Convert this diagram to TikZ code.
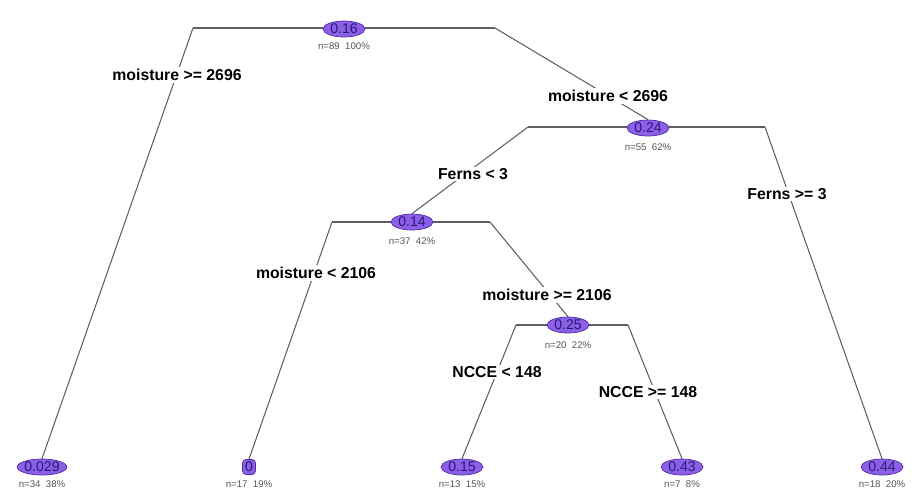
\documentclass[tikz,border=0pt]{standalone}
\usepackage{fontspec}
\setmainfont{Liberation Sans}
\usetikzlibrary{shapes.geometric,backgrounds}
\definecolor{nodefill}{RGB}{140,95,230}
\definecolor{nodeedge}{RGB}{80,45,170}
\definecolor{nodetext}{RGB}{40,25,120}
\definecolor{branch}{RGB}{95,95,95}
\definecolor{count}{RGB}{85,85,85}
\begin{document}
\begin{tikzpicture}[x=0.02cm, y=-0.02cm]
		\useasboundingbox (0,0) rectangle (915,488);
		\begin{scope}[every node/.style={ellipse, draw=nodeedge, fill=nodefill, text=nodetext, inner sep=0pt, minimum width=0.84cm, minimum height=0.32cm, font=\fontsize{8}{8}\selectfont}]
			\node (N1) at (344,29) {0.16};
			\node (N2) at (648,128) {0.24};
			\node (N3) at (412,222) {0.14};
			\node (N4) at (568,325) {0.25};
			\node (L1) at (42,467) {0.029};
			\node (L2)[rectangle, rounded corners=2pt, minimum width=0.26cm, minimum height=0.3cm] at (249,467) {0};
			\node (L3) at (462,467) {0.15};
			\node (L4) at (682,467) {0.43};
			\node (L5) at (882,467) {0.44};
		\end{scope}
		\begin{scope}[every node/.style={text=count, inner sep=0pt, font=\fontsize{5.5}{6}\selectfont}]
			\node (C1) at (344,46) {n=89\ \ 100\%};
			\node (C2) at (648,147) {n=55\ \ 62\%};
			\node (C3) at (412,241) {n=37\ \ 42\%};
			\node (C4) at (568,345) {n=20\ \ 22\%};
			\node (C5) at (42,484) {n=34\ \ 38\%};
			\node (C6) at (249,484) {n=17\ \ 19\%};
			\node (C7) at (462,484) {n=13\ \ 15\%};
			\node (C8) at (682,484) {n=7\ \ 8\%};
			\node (C9) at (882,484) {n=18\ \ 20\%};
		\end{scope}
		\coordinate (N1l) at (193,28);
		\coordinate (N1r) at (495,28);
		\coordinate (N2l) at (528,127);
		\coordinate (N2r) at (765,127);
		\coordinate (N3l) at (332,222);
		\coordinate (N3r) at (490,222);
		\coordinate (N4l) at (516,325);
		\coordinate (N4r) at (628,325);
		\begin{scope}[on background layer, every edge/.style={draw=branch, line width=0.6pt}]
			\path [-] (N1l) edge (N1r);
			\path [-] (N1l) edge (L1.north);
			\path [-] (N1r) edge (N2.north);
			\path [-] (N2l) edge (N2r);
			\path [-] (N2l) edge (N3.north);
			\path [-] (N2r) edge (L5.north);
			\path [-] (N3l) edge (N3r);
			\path [-] (N3l) edge (L2.north);
			\path [-] (N3r) edge (N4.north);
			\path [-] (N4l) edge (N4r);
			\path [-] (N4l) edge (L3.north);
			\path [-] (N4r) edge (L4.north);
		\end{scope}
		\begin{scope}[every node/.style={fill=white, inner sep=1pt, font=\bfseries\fontsize{9}{9}\selectfont}]
			\node (S1) at (177,75) {moisture >= 2696};
			\node (S2) at (608,96) {moisture < 2696};
			\node (S3) at (473,174) {Ferns < 3};
			\node (S4) at (787,194) {Ferns >= 3};
			\node (S5) at (316,273) {moisture < 2106};
			\node (S6) at (547,295) {moisture >= 2106};
			\node (S7) at (497,372) {NCCE < 148};
			\node (S8) at (648,392) {NCCE >= 148};
		\end{scope}
	\end{tikzpicture}
\end{document}
